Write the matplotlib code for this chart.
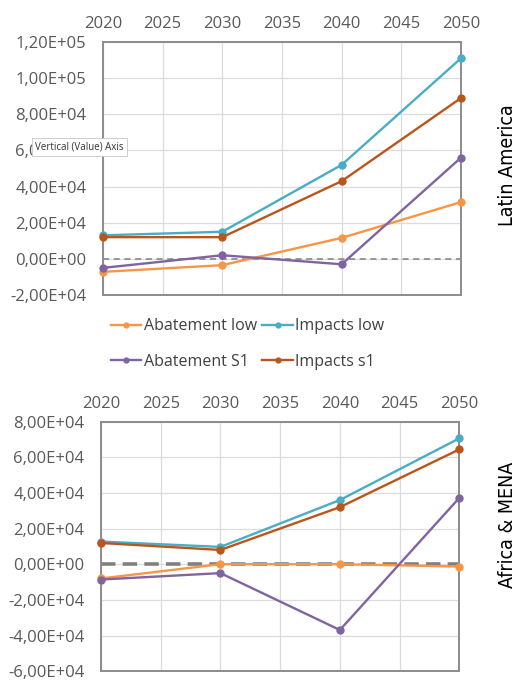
import matplotlib
matplotlib.use("Agg")
import matplotlib.pyplot as plt
from matplotlib.ticker import FuncFormatter

years = [2020, 2030, 2040, 2050]
series_names = ["Abatement low", "Impacts low", "Abatement S1", "Impacts s1"]
colors = ["#F79646", "#4BACC6", "#8064A2", "#B9561C"]

# Latin America
la_abatement_low = [-7200, -3500, 11600, 31400]
la_impacts_low = [13000, 15000, 52000, 111000]
la_abatement_s1 = [-5000, 2000, -3000, 56000]
la_impacts_s1 = [12000, 12000, 43000, 89000]

# Africa & MENA
af_abatement_low = [-8000, 0, 0, -1300]
af_impacts_low = [12700, 9700, 36000, 70600]
af_abatement_s1 = [-8600, -5000, -36900, 37200]
af_impacts_s1 = [11900, 8000, 32000, 64400]

x_ticks = [2020, 2025, 2030, 2035, 2040, 2045, 2050]
la_yticks = [-20000, 0, 20000, 40000, 60000, 80000, 100000, 120000]
af_yticks = [-60000, -40000, -20000, 0, 20000, 40000, 60000, 80000]

plt.rcParams["font.family"] = ["Open Sans", "DejaVu Sans"]

def sci_comma(v, pos):
    return "{:.2E}".format(v).replace(".", ",")

fig = plt.figure(figsize=(5.18, 6.80), dpi=100)
ax1 = fig.add_axes([0.1988, 0.5662, 0.6911, 0.3720])
ax2 = fig.add_axes([0.1950, 0.0130, 0.6917, 0.3670])

def style(ax, yticks, zero_lw, dashes):
    ax.set_xlim(2020, 2050)
    ax.set_ylim(yticks[0], yticks[-1])
    ax.set_xticks(x_ticks)
    ax.set_yticks(yticks)
    ax.xaxis.tick_top()
    ax.yaxis.set_major_formatter(FuncFormatter(sci_comma))
    ax.tick_params(axis="both", length=0, labelsize=12, colors="#595959")
    ax.tick_params(axis="y", pad=12)
    ax.tick_params(axis="x", pad=7)
    ax.grid(True, color="#dcdcdc", linewidth=0.9)
    ax.set_axisbelow(True)
    for sp in ax.spines.values():
        sp.set_color("#8c8c8c")
        sp.set_linewidth(1.4)
    ax.axhline(0, color="#808080", linewidth=zero_lw, dashes=dashes, zorder=2)

style(ax1, la_yticks, 1.1, (4, 3))
style(ax2, af_yticks, 2.6, (4, 2))

la = [la_abatement_low, la_impacts_low, la_abatement_s1, la_impacts_s1]
af = [af_abatement_low, af_impacts_low, af_abatement_s1, af_impacts_s1]
lines = []
for vals, c, name in zip(la, colors, series_names):
    ln, = ax1.plot(years, vals, color=c, linewidth=1.7, marker="o", markersize=5,
                   label=name, zorder=3, clip_on=False)
    lines.append(ln)
for vals, c, name in zip(af, colors, series_names):
    ax2.plot(years, vals, color=c, linewidth=1.7, marker="o", markersize=5,
             label=name, zorder=3, clip_on=False)

# two rows: (Abatement low, Impacts low) / (Abatement S1, Impacts s1)
order = [0, 2, 1, 3]
fig.legend([lines[i] for i in order], [series_names[i] for i in order],
           loc="center", bbox_to_anchor=(0.478, 0.494), ncol=2,
           frameon=False, fontsize=11.5, handlelength=1.9, handletextpad=0.15,
           columnspacing=0.35, labelspacing=1.2, markerscale=0.7,
           labelcolor="#404040")

fig.text(0.979, 0.757, "Latin America", rotation=90, ha="center", va="center",
         fontsize=14, family="DejaVu Sans", fontstretch="condensed", color="black")
fig.text(0.979, 0.228, "Africa & MENA", rotation=90, ha="center", va="center",
         fontsize=14, family="DejaVu Sans", fontstretch="condensed", color="black")

fig.text(0.068, 0.784, "Vertical (Value) Axis", fontsize=7, ha="left", va="center",
         color="#333333",
         bbox=dict(boxstyle="square,pad=0.35", facecolor="white", edgecolor="#c8c8c8",
                   linewidth=0.6))

fig.savefig("out.png", dpi=100)
